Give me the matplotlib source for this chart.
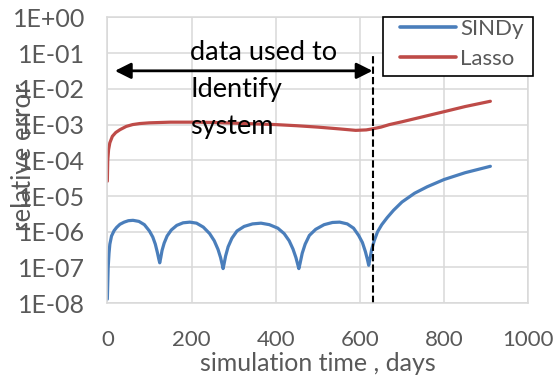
import matplotlib.pyplot as plt
from matplotlib.patches import Rectangle
from matplotlib.ticker import FixedLocator, NullLocator

plt.rcParams['font.family'] = ['Lato', 'DejaVu Sans']

# SINDy relative error vs. simulation time (days)
sindy_t = [0, 2, 4, 6, 10, 16, 22, 30, 40, 50, 61, 75, 88, 100, 108, 114, 119, 122,
           124.5, 127, 130, 135, 142, 152, 165, 180, 196, 212, 228, 243, 254, 263,
           269, 273, 275, 277, 281, 287, 296, 308, 325, 345, 365, 385, 405, 420,
           432, 441, 448, 452, 455, 458, 463, 470, 480, 495, 515, 535, 552, 570,
           585, 597, 606, 613, 618, 621, 624, 628, 634, 642, 652, 665, 680, 700,
           730, 760, 800, 850, 910]
sindy_err = [1.3e-8, 1.0e-7, 2.5e-7, 4.5e-7, 7.6e-7, 1.07e-6, 1.32e-6, 1.62e-6,
             1.86e-6, 2.04e-6, 2.09e-6, 1.95e-6, 1.58e-6, 1.05e-6, 7.1e-7, 4.5e-7,
             2.6e-7, 1.78e-7, 1.35e-7, 1.9e-7, 3.0e-7, 4.8e-7, 7.6e-7, 1.12e-6,
             1.51e-6, 1.78e-6, 1.86e-6, 1.74e-6, 1.35e-6, 8.9e-7, 5.6e-7, 3.2e-7,
             1.9e-7, 1.2e-7, 9.3e-8, 1.2e-7, 2.1e-7, 3.8e-7, 6.6e-7, 1.05e-6,
             1.41e-6, 1.66e-6, 1.74e-6, 1.58e-6, 1.26e-6, 8.9e-7, 5.6e-7, 3.3e-7,
             1.9e-7, 1.26e-7, 9.3e-8, 1.32e-7, 2.5e-7, 4.5e-7, 7.9e-7, 1.17e-6,
             1.58e-6, 1.82e-6, 1.86e-6, 1.66e-6, 1.26e-6, 7.9e-7, 5.0e-7, 2.8e-7,
             1.66e-7, 1.15e-7, 1.78e-7, 3.2e-7, 5.6e-7, 1.0e-6, 1.58e-6, 2.5e-6,
             4.0e-6, 6.8e-6, 1.2e-5, 1.82e-5, 2.9e-5, 4.5e-5, 6.8e-5]

# Lasso relative error
lasso_t = [0, 1, 3, 6, 12, 20, 30, 45, 60, 77, 100, 150, 200, 250, 300, 350, 400,
           450, 500, 550, 590, 615, 630, 650, 670, 700, 750, 800, 850, 910]
lasso_err = [2.6e-5, 1.0e-4, 2.0e-4, 3.1e-4, 4.7e-4, 6.0e-4, 7.2e-4, 8.9e-4,
             1.0e-3, 1.07e-3, 1.12e-3, 1.17e-3, 1.17e-3, 1.15e-3, 1.10e-3,
             1.05e-3, 1.0e-3, 9.3e-4, 8.5e-4, 7.6e-4, 6.9e-4, 7.1e-4, 7.6e-4,
             8.5e-4, 1.0e-3, 1.2e-3, 1.66e-3, 2.3e-3, 3.2e-3, 4.5e-3]

ytick_vals = [1e0, 1e-1, 1e-2, 1e-3, 1e-4, 1e-5, 1e-6, 1e-7, 1e-8]
ytick_labels = ['1E+00', '1E-01', '1E-02', '1E-03', '1E-04', '1E-05', '1E-06',
                '1E-07', '1E-08']
xtick_vals = [0, 200, 400, 600, 800, 1000]

train_end = 630
arrow_start = 18
arrow_y = 0.032

grey = '#595959'
gridc = '#d9d9d9'
fs = 18

fig = plt.figure(figsize=(5.59, 3.79), dpi=100)
ax = fig.add_axes([0.192, 0.2, 0.753, 0.754])

ax.plot(sindy_t, sindy_err, color='#4a7ebb', lw=2.3, label='SINDy',
        solid_joinstyle='round', solid_capstyle='round')
ax.plot(lasso_t, lasso_err, color='#be4b48', lw=2.3, label='Lasso',
        solid_joinstyle='round', solid_capstyle='round')

ax.set_yscale('log')
ax.set_ylim(1e-8, 1e0)
ax.set_xlim(0, 1000)
ax.yaxis.set_major_locator(FixedLocator(ytick_vals))
ax.yaxis.set_minor_locator(NullLocator())
ax.set_yticklabels(ytick_labels)
ax.set_xticks(xtick_vals)

ax.grid(True, color=gridc, lw=1.1)
ax.set_axisbelow(True)
for s in ax.spines.values():
    s.set_color(gridc)
    s.set_linewidth(1.1)
ax.tick_params(axis='both', length=0, labelcolor=grey)
ax.tick_params(axis='y', pad=16, labelsize=fs)
ax.tick_params(axis='x', pad=19, labelsize=16)

ax.set_xlabel('simulation time , days', fontsize=fs, color=grey, labelpad=2)
fig.text(24 / 559, 1 - 157 / 379, 'relative error', rotation=90, ha='center',
         va='center', fontsize=fs + 0.5, color=grey)

# end of the identification window
ax.plot([train_end, train_end], [1e-8, 1e-1], color='black', lw=1.5,
        dashes=(3.5, 1.5))
ax.annotate('', xy=(train_end, arrow_y), xytext=(arrow_start, arrow_y),
            arrowprops=dict(arrowstyle='<|-|>', color='black', lw=2,
                            mutation_scale=24, shrinkA=0, shrinkB=0))
ax.text(197, 0.23, 'data used to\nIdentify\nsystem', fontsize=19.5,
        color='black', ha='left', va='top', linespacing=1.6)

# legend box drawn separately so it can be wider than the entries
ax.add_patch(Rectangle((383 / 559, 1 - 76 / 379), 150 / 559, 59 / 379,
                       transform=fig.transFigure, facecolor='white',
                       edgecolor='black', lw=1.2, zorder=5, clip_on=False))
leg = ax.legend(loc='upper left', bbox_to_anchor=(400 / 559, 1 - 19 / 379),
                bbox_transform=fig.transFigure, borderaxespad=0, borderpad=0,
                fontsize=16, frameon=False, handlelength=2.5,
                labelspacing=0.45, handletextpad=0.2)
leg.set_zorder(6)
for line in leg.get_lines():
    line.set_linewidth(2.6)
for t in leg.get_texts():
    t.set_color(grey)

fig.savefig('out.png', dpi=100)
